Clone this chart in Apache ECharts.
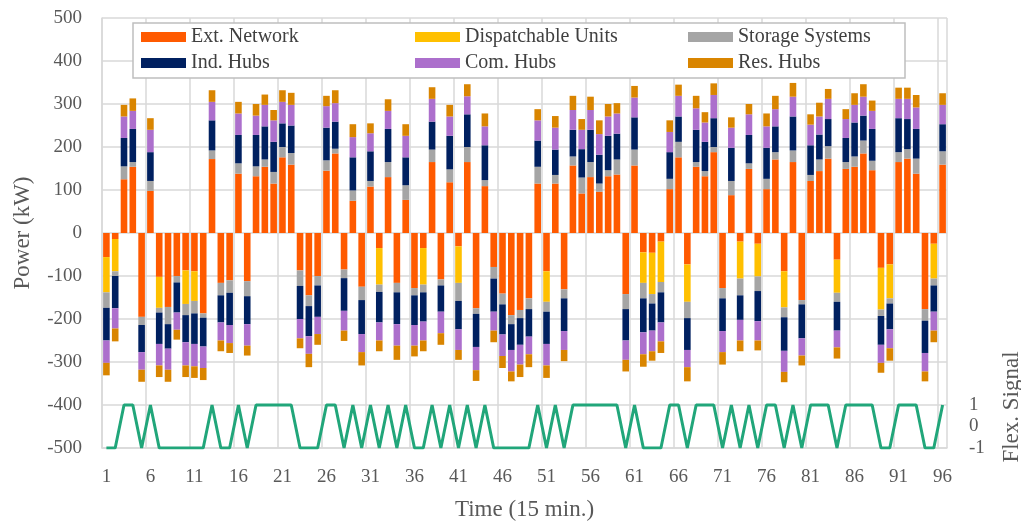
<!DOCTYPE html>
<html><head><meta charset="utf-8">
<script src="https://cdn.jsdelivr.net/npm/echarts@6/dist/echarts.min.js"></script>
<style>html,body{margin:0;padding:0;background:#fff}#c{width:1021px;height:526px}</style>
</head><body><div id="c"></div>
<script>
const categories = ['1','2','3','4','5','6','7','8','9','10','11','12','13','14','15','16','17','18','19','20','21','22','23','24','25','26','27','28','29','30','31','32','33','34','35','36','37','38','39','40','41','42','43','44','45','46','47','48','49','50','51','52','53','54','55','56','57','58','59','60','61','62','63','64','65','66','67','68','69','70','71','72','73','74','75','76','77','78','79','80','81','82','83','84','85','86','87','88','89','90','91','92','93','94','95','96'];

const extNetwork = [-56,-14,125,154,-195,98,-102,-172,-100,-87,
  -89,-187,172,-116,-110,138,-112,132,154,115,
  176,159,-87,-145,-100,145,185,-85,75,-125,
  108,-35,130,-116,77,-128,-35,165,-108,118,
  -31,165,-175,109,-79,-141,-191,-179,-152,115,
  -89,115,-131,157,92,130,96,132,136,-142,
  157,-45,-46,-20,102,176,-73,154,132,188,
  -128,88,-20,149,-25,102,171,-89,165,-156,
  121,144,173,-62,149,154,185,146,-81,-73,
  165,173,138,-177,-25,159];
const dispatchable = [-82,-75,0,0,0,0,-72,0,0,-78,
  -69,0,0,0,0,0,0,0,0,0,
  0,0,0,0,0,0,0,0,0,0,
  0,-85,0,0,0,0,-85,0,0,0,
  -85,0,0,0,0,0,0,0,0,0,
  -71,0,0,0,0,0,0,0,0,0,
  0,-71,-96,-94,0,0,-87,0,0,0,
  0,0,-86,0,-76,0,0,-84,0,0,
  0,0,0,-77,0,0,0,0,-97,-79,
  0,0,0,0,-81,0];
const storage = [-36,-11,30,11,-19,23,-11,-40,-15,-26,
  -29,-10,20,-29,-29,24,-35,23,17,27,
  24,27,-36,-25,-22,24,11,-20,24,-31,
  13,-17,35,-22,34,-17,-18,29,-14,30,
  -42,35,-13,14,-27,-25,-21,-19,-25,39,
  -23,20,-21,21,37,35,19,14,35,-35,
  37,-36,-22,-24,24,36,-38,11,12,12,
  -24,33,-39,13,-34,24,17,-23,27,-10,
  14,27,29,-21,16,24,30,22,-15,-12,
  23,22,35,-27,-16,31];
const indHubs = [-76,-75,66,77,-63,67,-73,-57,-70,-63,
  -71,-67,70,-63,-75,66,-65,73,77,70,
  55,64,-77,-70,-73,76,63,-76,77,-79,
  69,-71,77,-74,65,-69,-68,65,-61,78,
  -66,76,-77,81,-77,-70,-60,-62,-64,61,
  -75,59,-76,62,66,75,67,80,60,-73,
  75,-79,-63,-70,62,59,-74,75,68,67,
  -76,77,-57,66,-70,72,60,-78,79,-79,
  69,58,63,-67,56,79,58,74,-67,-60,
  79,70,69,-75,-61,63];
const comHubs = [-52,-47,50,42,-41,52,-50,-49,-40,-54,
  -52,-50,43,-42,-42,50,-50,45,50,50,
  50,48,-45,-41,-40,50,43,-46,47,-42,
  42,-42,42,-50,50,-48,-44,53,-50,45,
  -48,42,-54,44,-44,-50,-50,-46,-41,47,
  -50,51,-44,46,45,46,48,45,47,-45,
  46,-51,-48,-44,47,48,-40,50,45,54,
  -49,47,-48,48,-45,50,40,-49,46,-40,
  48,42,47,-39,44,41,44,42,-42,-44,
  45,47,50,-43,-44,45];
const resHubs = [-29,-30,27,29,-28,27,-27,-28,-23,-27,
  -27,-28,27,-25,-23,27,-23,27,24,24,
  27,28,-23,-31,-25,24,30,-24,30,-31,
  23,-25,27,-33,27,-25,-25,27,-27,27,
  -23,28,-25,30,-27,-28,-23,-29,-30,26,
  -29,27,-26,33,25,31,32,29,24,-27,
  27,-29,-22,-27,27,26,-33,29,24,27,
  -29,24,-25,24,-23,30,31,-24,32,-23,
  24,32,23,-26,23,27,29,24,-23,-29,
  26,26,29,-23,-27,27];
const flexSignal = [-1,-1,1,1,-1,1,-1,-1,-1,-1,
  -1,-1,1,-1,-1,1,-1,1,1,1,
  1,1,-1,-1,-1,1,1,-1,1,-1,
  1,-1,1,-1,1,-1,-1,1,-1,1,
  -1,1,-1,1,-1,-1,-1,-1,-1,1,
  -1,1,-1,1,1,1,1,1,1,-1,
  1,-1,-1,-1,1,1,-1,1,1,1,
  -1,1,-1,1,-1,1,1,-1,1,-1,
  1,1,1,-1,1,1,1,1,-1,-1,
  1,1,1,-1,-1,1];

const names = ['Ext. Network','Dispatchable Units','Storage Systems','Ind. Hubs','Com. Hubs','Res. Hubs'];
const colors = ['#FF5A00','#FFC000','#A5A5A5','#002060','#AC6FCC','#D98500'];
const dataSets = [extNetwork, dispatchable, storage, indHubs, comHubs, resHubs];

const FONT = 'Liberation Serif';
const GRID_COLOR = '#d9d9d9';
const TXT = '#595959';

const barSeries = names.map((n, i) => ({
  name: n, type: 'bar', stack: 'total', data: dataSets[i],
  itemStyle: { color: colors[i] },
  barCategoryGap: '25%',
  xAxisIndex: 0, yAxisIndex: 0
}));

const legendStyle = { color: '#404040', fontFamily: FONT, fontSize: 20, lineHeight: 20 };
function mkLegend(left, data) {
  return { orient: 'vertical', left: left, top: 27, padding: 0, itemGap: 6,
    itemWidth: 45, itemHeight: 10, icon: 'rect', data: data, textStyle: legendStyle,
    selectedMode: false };
}

const chart = echarts.init(document.getElementById('c'), null, { renderer: 'canvas' });
chart.setOption({
  animation: false,
  backgroundColor: '#fff',
  grid: { left: 102, right: 74, top: 18, bottom: 76, containLabel: false },
  legend: [
    mkLegend(141, ['Ext. Network', 'Ind. Hubs']),
    mkLegend(415, ['Dispatchable Units', 'Com. Hubs']),
    mkLegend(688, ['Storage Systems', 'Res. Hubs'])
  ],
  graphic: [
    { type: 'rect', z: 3, shape: { x: 133, y: 23, width: 772, height: 55 },
      style: { fill: '#fff', stroke: '#bfbfbf', lineWidth: 1.5 } },
    { type: 'text', z: 5, x: 1012, y: 407, rotation: Math.PI / 2,
      style: { text: 'Flex. Signal', fontFamily: FONT, fontSize: 23, fill: TXT,
        align: 'center', verticalAlign: 'middle' } }
  ],
  xAxis: {
    type: 'category', data: categories, boundaryGap: true,
    name: 'Time (15 min.)', nameLocation: 'middle', nameGap: 50,
    nameTextStyle: { fontFamily: FONT, fontSize: 23, color: TXT },
    axisLine: { onZero: false, lineStyle: { color: GRID_COLOR, width: 1.5 } },
    axisTick: { show: false },
    axisLabel: { interval: 4, color: TXT, fontFamily: FONT, fontSize: 19, margin: 20 },
    splitLine: { show: true, interval: 4, lineStyle: { color: GRID_COLOR, width: 1.5 } }
  },
  yAxis: [
    {
      type: 'value', min: -500, max: 500, interval: 100,
      name: 'Power (kW)', nameLocation: 'middle', nameGap: 68,
      nameTextStyle: { fontFamily: FONT, fontSize: 23, color: TXT },
      axisLine: { show: true, lineStyle: { color: GRID_COLOR, width: 1.5 } },
      axisTick: { show: false },
      axisLabel: { color: TXT, fontFamily: FONT, fontSize: 19, margin: 20 },
      splitLine: { show: true, lineStyle: { color: GRID_COLOR, width: 1.5 } }
    },
    {
      type: 'value', min: -1, max: 19, interval: 1, position: 'right',
      axisLine: { show: false }, axisTick: { show: false },
      splitLine: { show: false },
      axisLabel: { color: TXT, fontFamily: FONT, fontSize: 19, margin: 22,
        formatter: v => (v <= 1 ? String(v) : '') }
    }
  ],
  series: barSeries.concat([{
    name: 'Flex. Signal', type: 'line', yAxisIndex: 1, data: flexSignal,
    symbol: 'none', lineStyle: { color: '#21A67A', width: 3 }, itemStyle: { color: '#21A67A' }, z: 4
  }])
});
</script>
</body></html>
